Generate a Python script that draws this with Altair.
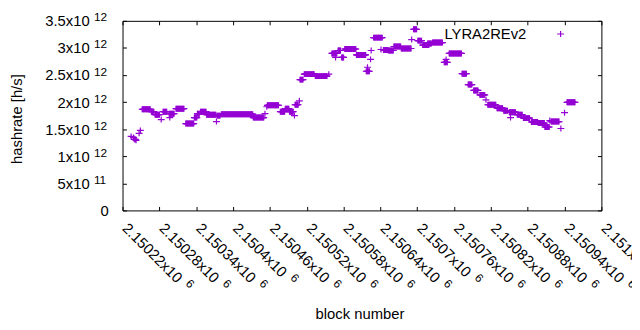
import altair as alt
import pandas as pd

# ---- data: runs of consecutive blocks sharing one hashrate estimate (value in 1e12 h/s)
run_start = [2150234, 2150238, 2150239, 2150242, 2150247, 2150249, 2150252, 2150267, 2150273, 2150283,
             2150286, 2150296, 2150297, 2150307, 2150323, 2150337, 2150342, 2150347, 2150357, 2150373,
             2150374, 2150381, 2150433, 2150452, 2150455, 2150456, 2150477, 2150485, 2150492, 2150500,
             2150501, 2150508, 2150509, 2150516, 2150534, 2150556, 2150561, 2150567, 2150571, 2150577,
             2150582, 2150601, 2150617, 2150619, 2150624, 2150625, 2150629, 2150641, 2150645, 2150653,
             2150662, 2150674, 2150691, 2150694, 2150701, 2150709, 2150717, 2150725, 2150744, 2150747,
             2150752, 2150773, 2150783, 2150792, 2150802, 2150812, 2150815, 2150830, 2150841, 2150850,
             2150852, 2150863, 2150873, 2150886, 2150897, 2150908, 2150916, 2150918, 2150934, 2150940,
             2150944]
run_end = [2150234, 2150238, 2150241, 2150242, 2150247, 2150249, 2150265, 2150271, 2150280, 2150283,
           2150292, 2150304, 2150297, 2150320, 2150336, 2150341, 2150345, 2150356, 2150372, 2150373,
           2150379, 2150432, 2150450, 2150452, 2150455, 2150474, 2150484, 2150491, 2150498, 2150500,
           2150506, 2150508, 2150514, 2150532, 2150553, 2150556, 2150569, 2150567, 2150575, 2150580,
           2150600, 2150616, 2150622, 2150619, 2150624, 2150625, 2150643, 2150641, 2150652, 2150661,
           2150673, 2150690, 2150691, 2150699, 2150707, 2150719, 2150723, 2150741, 2150749, 2150747,
           2150772, 2150780, 2150789, 2150799, 2150810, 2150812, 2150828, 2150839, 2150847, 2150860,
           2150852, 2150871, 2150883, 2150896, 2150907, 2150915, 2150916, 2150931, 2150934, 2150940,
           2150957]
run_value = [1.367, 1.349, 1.312, 1.294, 1.422, 1.477, 1.868, 1.823, 1.768, 1.677,
             1.823, 1.786, 1.714, 1.878, 1.604, 1.714, 1.786, 1.823, 1.768, 1.641,
             1.750, 1.777, 1.714, 1.786, 1.914, 1.941, 1.823, 1.878, 1.823, 1.750,
             1.951, 2.023, 2.415, 2.516, 2.479, 2.516, 2.898, 2.825, 2.953, 2.825,
             2.980, 2.871, 2.570, 2.643, 2.789, 2.953, 3.190, 2.971, 2.962, 2.953,
             3.026, 2.990, 3.154, 3.345, 3.135, 3.053, 3.081, 3.099, 2.734, 2.789,
             2.898, 2.525, 2.324, 2.215, 2.133, 2.042, 1.951, 1.887, 1.841, 1.814,
             1.714, 1.768, 1.704, 1.632, 1.613, 1.540, 1.659, 1.641, 1.513, 1.805,
             1.996]
series_name = "LYRA2REv2"

x_tick_values = [2150220, 2150280, 2150340, 2150400, 2150460, 2150520, 2150580,
                 2150640, 2150700, 2150760, 2150820, 2150880, 2150940, 2151000]
x_tick_main = ["2.15022x10", "2.15028x10", "2.15034x10", "2.1504x10", "2.15046x10", "2.15052x10",
               "2.15058x10", "2.15064x10", "2.1507x10", "2.15076x10", "2.15082x10", "2.15088x10",
               "2.15094x10", "2.151x10"]
x_tick_exp = ["6", "6", "6", "6", "6", "6", "6", "6", "6", "6", "6", "6", "6", "6"]
y_tick_values = [0, 500000000000, 1000000000000, 1500000000000, 2000000000000,
                 2500000000000, 3000000000000, 3500000000000]
y_tick_main = ["0", "5x10", "1x10", "1.5x10", "2x10", "2.5x10", "3x10", "3.5x10"]
y_tick_exp = ["", "11", "12", "12", "12", "12", "12", "12"]

rows = []
for s, e, v in zip(run_start, run_end, run_value):
    for b in range(s, e + 1):
        rows.append({"block": b, "hashrate": v * 1e12, "series": series_name})
df = pd.DataFrame(rows)

W, H = 485, 192
FONT = "Liberation Sans"
FS = 15
FS_SUP = 12
PLUS = "M-1,0L1,0M0,-0.86L0,0.86"
COLOR = "#9400d3"

# advance widths (em) of Liberation Sans, used only to place the exponent after the mantissa
ADV = {".": 0.278, "x": 0.5}
def text_width(s, fs):
    return sum(ADV.get(ch, 0.556) for ch in s) * fs

x_scale = alt.Scale(domain=[x_tick_values[0], x_tick_values[-1]], nice=False, zero=False)
y_scale = alt.Scale(domain=[y_tick_values[0], y_tick_values[-1]], nice=False, zero=False)

points = alt.Chart(df).mark_point(
    shape=PLUS, size=49, strokeWidth=1.2, filled=False, opacity=1, color=COLOR
).encode(
    x=alt.X("block:Q", scale=x_scale,
            axis=alt.Axis(orient="bottom", values=x_tick_values, labels=False, ticks=False,
                          domain=False, grid=False,
                          title="block number", titleX=240, titleY=109,
                          titleBaseline="alphabetic", titleAlign="center")),
    y=alt.Y("hashrate:Q", scale=y_scale,
            axis=alt.Axis(orient="left", values=y_tick_values, labels=False, ticks=False,
                          domain=False, grid=False,
                          title="hashrate [h/s]", titleX=-107, titleY=H / 2 + 3, titleAngle=270,
                          titleBaseline="middle", titleAlign="center")),
)

# ---- tick labels (mantissa + raised exponent, gnuplot enhanced-text style)
xt = pd.DataFrame({"block": x_tick_values, "main": x_tick_main, "exp": x_tick_exp})
xt["w"] = [round(text_width(m, FS) + 6.6, 1) for m in x_tick_main]

x_main = alt.Chart(xt).mark_text(
    angle=45, align="left", baseline="alphabetic", font=FONT, fontSize=FS, color="black", xOffset=-1
).encode(x=alt.X("block:Q", scale=x_scale, axis=None), y=alt.value(H + 19), text="main:N")

x_sup_layers = []
for w in sorted(set(xt["w"])):
    x_sup_layers.append(
        alt.Chart(xt).transform_filter(f"datum.w == {w}").mark_text(
            angle=45, align="left", baseline="alphabetic", font=FONT, fontSize=FS_SUP,
            color="black", xOffset=-1, dx=w, dy=-6
        ).encode(x=alt.X("block:Q", scale=x_scale, axis=None), y=alt.value(H + 19), text="exp:N")
    )

yt = pd.DataFrame({"hashrate": y_tick_values, "main": y_tick_main, "exp": y_tick_exp})
y_main = alt.Chart(yt).transform_filter("datum.hashrate > 0").mark_text(
    align="right", baseline="alphabetic", font=FONT, fontSize=FS, color="black", dy=5.5
).encode(y=alt.Y("hashrate:Q", scale=y_scale, axis=None), x=alt.value(-33.3), text="main:N")
y_zero = alt.Chart(yt).transform_filter("datum.hashrate == 0").mark_text(
    align="right", baseline="alphabetic", font=FONT, fontSize=FS, color="black", dy=5.5
).encode(y=alt.Y("hashrate:Q", scale=y_scale, axis=None), x=alt.value(-14), text="main:N")
y_sup = alt.Chart(yt).transform_filter("datum.hashrate > 0").mark_text(
    align="left", baseline="alphabetic", font=FONT, fontSize=FS_SUP, color="black", dy=0.5
).encode(y=alt.Y("hashrate:Q", scale=y_scale, axis=None), x=alt.value(-29), text="exp:N")

# ---- key (gnuplot style: title left of the sample)
key_df = pd.DataFrame({"series": [series_name]})
key_text = alt.Chart(key_df).mark_text(
    align="right", baseline="middle", font=FONT, fontSize=FS, color="black"
).encode(x=alt.value(409), y=alt.value(13), text="series:N")
key_mark = alt.Chart(key_df).mark_point(
    shape=PLUS, size=49, strokeWidth=1.2, filled=False, opacity=1, color=COLOR
).encode(x=alt.value(443.7), y=alt.value(13.3))

# ---- inward ticks on all four sides
dummy = pd.DataFrame({"block": [x_tick_values[0]], "hashrate": [0]})

def tick_axis(orient, values):
    off = -H if orient in ("top", "bottom") else -W
    return alt.Axis(orient=orient, offset=off, values=values, labels=False, domain=False,
                    grid=False, ticks=True, tickSize=4, tickColor="black", tickWidth=1, title=None)

ticks_a = alt.Chart(dummy).mark_point(opacity=0).encode(
    x=alt.X("block:Q", scale=x_scale, axis=tick_axis("bottom", x_tick_values)),
    y=alt.Y("hashrate:Q", scale=y_scale, axis=tick_axis("right", y_tick_values)),
)
ticks_b = alt.Chart(dummy).mark_point(opacity=0).encode(
    x=alt.X("block:Q", scale=x_scale, axis=tick_axis("top", x_tick_values)),
    y=alt.Y("hashrate:Q", scale=y_scale, axis=tick_axis("left", y_tick_values)),
)

chart = alt.layer(
    points, ticks_a, ticks_b, x_main, *x_sup_layers, y_main, y_zero, y_sup, key_text, key_mark
).resolve_axis(
    x="independent", y="independent"
).properties(
    width=W, height=H,
    autosize=alt.AutoSizeParams(type="none"),
    padding={"left": 116, "top": 11, "right": 31, "bottom": 111},
    background="white",
).configure_view(
    stroke="black", strokeWidth=1
).configure_axis(
    labelFont=FONT, labelFontSize=FS, labelColor="black",
    titleFont=FONT, titleFontSize=FS, titleColor="black", titleFontWeight="normal",
)

chart.save("out.html", embed_options={"renderer": "svg", "actions": False})
